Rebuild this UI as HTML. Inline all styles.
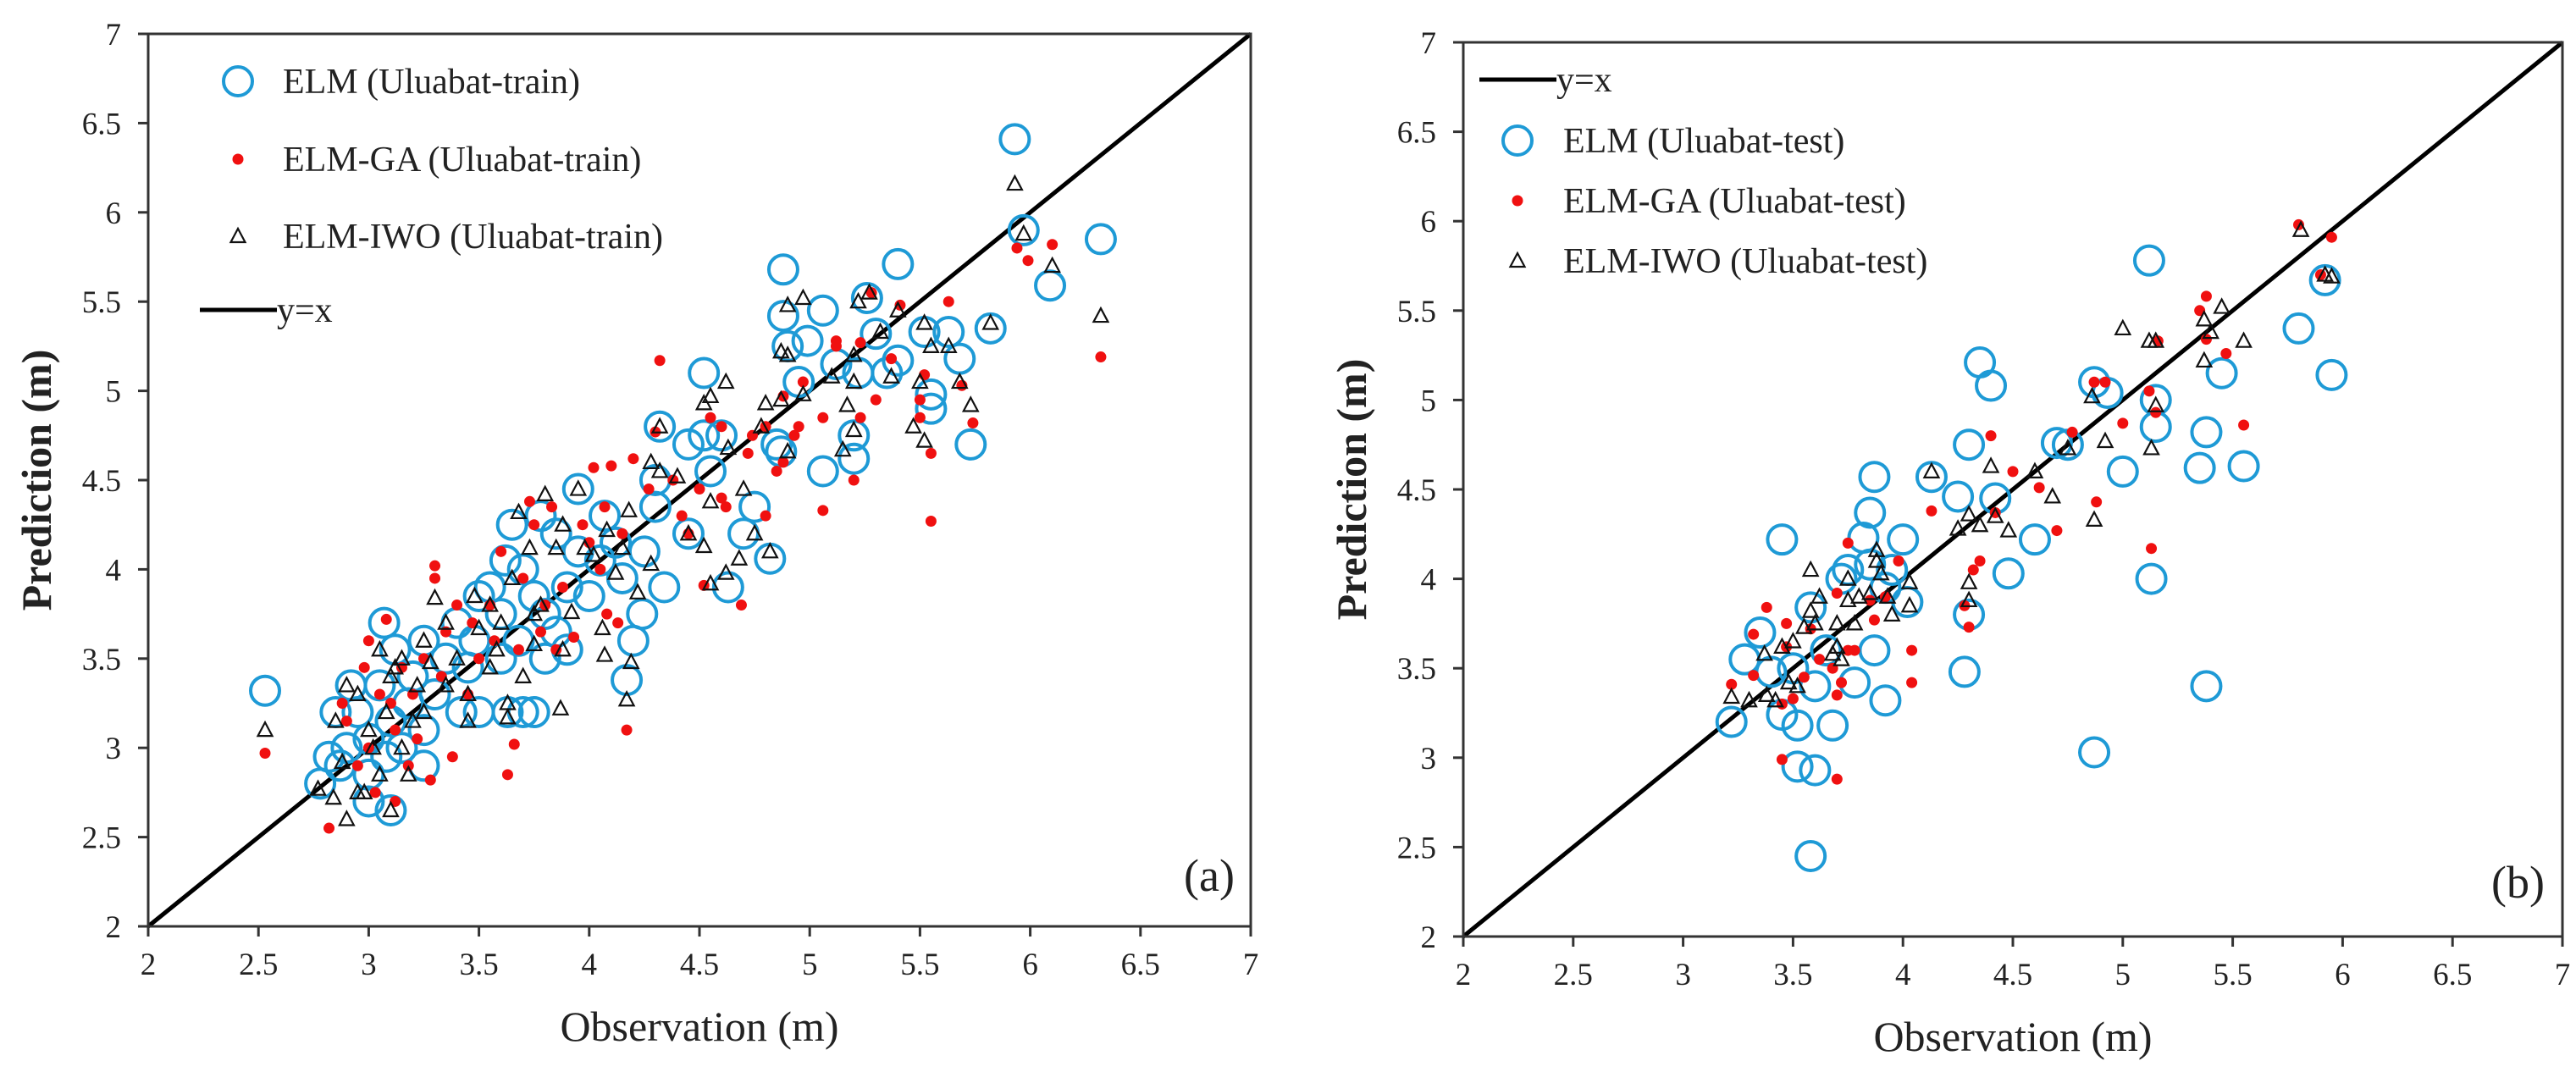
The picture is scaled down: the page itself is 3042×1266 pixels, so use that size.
<!DOCTYPE html>
<html><head><meta charset="utf-8"><style>
html,body{margin:0;padding:0;background:#fff;}
svg{display:block;font-family:"Liberation Serif",serif;}
</style></head><body>
<svg id="chart" width="3042" height="1266" viewBox="0 0 3042 1266" xmlns="http://www.w3.org/2000/svg"></svg>
<script>
const ticks = [2,2.5,3,3.5,4,4.5,5,5.5,6,6.5,7];
const tickLabels = ["2","2.5","3","3.5","4","4.5","5","5.5","6","6.5","7"];

const elmTrainX = [5.93,6.32,5.97,6.09,5.73,5.82,5.68,5.63,5.55,5.55,5.52,5.4,5.4,5.35,5.26,5.3,5.2,5.2,5.22,5.12,5.06,5.06,4.99,4.95,4.88,4.88,4.9,4.87,4.85,4.82,4.75,4.7,4.63,4.6,4.52,4.52,4.55,4.45,4.45,4.34,4.32,4.3,4.25,4.2,4.17,4.15,4.12,4.07,4.05,4.0,3.95,3.95,3.9,3.85,3.8,3.78,3.75,3.7,3.68,3.65,3.62,3.6,3.6,3.55,3.5,3.48,3.45,3.42,3.4,3.35,3.3,3.25,3.25,3.2,3.18,3.15,3.12,3.1,3.08,3.07,3.05,3.0,3.0,2.95,2.92,2.9,2.87,2.85,2.82,2.78,2.53,3.1,3.0,3.63,3.75,3.7,3.25,3.5,4.24,4.3,3.85,3.9,3.8];
const elmTrainY = [6.41,5.85,5.9,5.59,4.70,5.35,5.18,5.33,4.98,4.90,5.33,5.71,5.17,5.1,5.52,5.32,4.75,4.62,5.1,5.15,4.55,5.45,5.28,5.05,5.68,5.42,5.25,4.66,4.7,4.06,4.35,4.2,3.9,4.75,5.1,4.75,4.55,4.7,4.2,3.9,4.8,4.5,4.1,3.6,3.38,3.95,4.15,4.3,4.05,3.85,4.45,4.1,3.9,3.65,3.5,4.3,3.85,4.0,3.6,4.25,4.05,3.75,3.5,3.9,3.85,3.6,3.45,3.2,3.7,3.5,3.3,3.6,3.1,3.4,3.25,3.0,3.55,3.15,2.95,3.7,3.35,3.05,2.85,3.2,3.35,3.0,2.9,3.2,2.95,2.8,3.32,2.65,2.7,3.2,3.2,3.2,2.9,3.2,3.75,4.35,4.2,3.55,3.75];

const gaTrainX = [5.94,5.99,6.1,6.32,5.63,5.74,5.69,5.55,5.55,5.5,5.52,5.5,5.41,5.37,5.3,5.28,5.23,5.23,5.2,5.12,5.12,5.06,5.06,4.97,4.95,4.93,4.88,4.88,4.85,4.8,4.74,4.69,4.72,4.62,4.6,4.55,4.52,4.5,4.42,4.38,4.32,4.3,4.27,4.2,4.17,4.15,4.1,4.07,4.05,4.02,4.0,3.97,3.93,3.88,3.83,3.8,3.75,3.73,3.7,3.68,3.66,3.63,3.6,3.55,3.5,3.45,3.4,3.38,3.35,3.3,3.3,3.28,3.25,3.2,3.18,3.12,3.12,3.08,3.05,3.0,2.98,2.95,2.9,2.88,2.82,2.53,3.0,3.03,3.1,3.15,3.22,3.33,3.47,3.57,3.78,3.85,4.08,4.13,4.45,4.6,4.8];
const gaTrainY = [5.8,5.73,5.82,5.19,5.5,4.82,5.03,4.27,4.65,4.85,5.09,4.95,5.48,5.18,4.95,5.55,5.27,4.85,4.5,5.28,5.25,4.33,4.85,5.05,4.8,4.75,4.97,4.6,4.55,4.8,4.75,3.8,4.65,4.35,4.8,4.85,3.91,4.45,4.3,4.5,5.17,4.77,4.45,4.62,3.1,4.2,4.58,4.35,4.0,4.57,4.15,4.25,3.62,3.9,4.35,3.8,4.25,4.38,3.95,3.55,3.02,2.85,4.1,3.8,3.5,3.3,3.8,2.95,3.65,3.95,4.02,2.82,3.5,3.3,2.9,3.1,2.7,3.72,3.3,3.6,3.45,2.9,3.15,3.25,2.55,2.97,3.0,2.75,3.25,3.45,3.05,3.4,3.7,3.6,3.65,3.55,3.75,3.7,4.2,4.4,4.3];

const iwoTrainX = [5.93,5.97,6.1,6.32,5.82,5.73,5.68,5.63,5.55,5.52,5.52,5.47,5.5,5.4,5.37,5.32,5.27,5.22,5.2,5.2,5.17,5.15,5.2,5.1,4.97,4.97,4.9,4.9,4.87,4.87,4.9,4.8,4.78,4.82,4.75,4.7,4.68,4.62,4.63,4.62,4.55,4.55,4.52,4.52,4.55,4.45,4.4,4.32,4.32,4.28,4.28,4.22,4.18,4.15,4.19,4.17,4.12,4.08,4.06,4.07,4.02,3.98,3.95,3.92,3.88,3.85,3.88,3.87,3.8,3.78,3.75,3.73,3.68,3.7,3.65,3.63,3.63,3.58,3.55,3.5,3.48,3.45,3.45,3.4,3.35,3.3,3.28,3.25,3.22,3.2,3.18,3.15,3.12,3.1,3.08,3.05,3.02,3.0,2.98,2.95,2.9,2.9,2.88,2.85,2.84,2.77,2.53,2.95,3.05,3.1,3.15,3.25,3.35,3.55,3.6,3.75];
const iwoTrainY = [6.16,5.88,5.7,5.42,5.38,4.92,5.05,5.25,5.25,5.38,4.72,4.8,5.05,5.45,5.08,5.33,5.55,5.5,5.2,5.05,4.92,4.67,4.78,5.08,5.52,4.98,5.48,5.2,4.95,5.22,4.66,4.93,4.8,4.1,4.2,4.45,4.06,5.05,4.68,3.98,4.97,4.38,4.93,4.13,3.92,4.2,4.52,4.8,4.55,4.6,4.03,3.87,4.33,4.12,3.48,3.27,3.98,4.22,3.67,3.52,4.08,4.12,4.45,3.76,4.25,4.12,3.55,3.22,4.42,3.8,3.58,4.12,4.32,3.4,3.95,3.25,3.17,3.55,3.8,3.67,3.85,3.3,3.15,3.5,3.7,3.84,3.48,3.6,3.35,3.15,2.85,3.0,3.45,2.65,3.2,3.55,3.0,3.1,2.75,3.3,2.6,3.35,2.92,3.15,2.72,2.77,3.1,2.75,2.85,3.4,3.5,3.2,3.35,3.45,3.7,3.75];

const elmTestX = [5.12,5.92,5.8,5.95,5.45,5.38,5.55,5.35,5.15,5.15,5.13,5.38,4.87,4.87,4.93,5.0,4.75,4.7,4.6,4.48,4.4,4.35,4.42,4.3,4.25,4.3,4.28,4.13,4.0,4.02,3.92,3.87,3.87,3.85,3.82,3.85,3.75,3.72,3.78,3.68,3.6,3.52,3.52,3.45,3.58,3.6,3.45,3.4,3.35,3.28,3.22,3.58,3.65,3.5,3.92,3.95];
const elmTestY = [5.78,5.67,5.4,5.14,5.15,4.82,4.63,4.62,5.0,4.85,4.0,3.4,3.03,5.1,5.04,4.6,4.75,4.76,4.22,4.03,5.08,5.21,4.45,4.75,4.46,3.8,3.48,4.57,4.22,3.87,3.32,3.6,4.57,4.37,4.23,4.08,4.05,4.0,3.42,3.18,2.93,2.95,3.18,4.22,3.84,3.4,3.24,3.48,3.7,3.55,3.2,2.45,3.6,3.5,3.95,4.05];

const gaTestX = [5.8,5.95,5.9,5.38,5.35,5.38,5.47,5.16,5.55,5.13,5.12,4.92,4.87,5.0,5.15,4.77,4.88,4.7,4.62,4.5,4.4,4.42,4.35,4.32,4.28,4.3,4.13,4.04,4.04,3.98,3.92,3.87,3.85,3.75,3.78,3.75,3.7,3.72,3.7,3.7,3.68,3.62,3.58,3.55,3.47,3.45,3.45,3.5,3.38,3.32,3.32,3.22,3.47];
const gaTestY = [5.98,5.91,5.7,5.58,5.5,5.34,5.26,5.33,4.86,4.17,5.05,5.1,5.1,4.87,4.93,4.82,4.43,4.27,4.51,4.6,4.8,4.37,4.1,4.05,3.85,3.73,4.38,3.6,3.42,4.1,3.9,3.77,3.88,4.2,3.6,3.6,3.92,3.42,3.35,2.88,3.5,3.55,3.72,3.45,3.75,3.3,2.99,3.33,3.84,3.69,3.46,3.41,3.62];

const iwoTestX = [5.81,5.92,5.95,5.45,5.37,5.4,5.37,5.55,5.12,5.15,5.0,5.15,5.13,4.86,4.92,4.75,4.87,4.68,4.6,4.48,4.42,4.4,4.35,4.3,4.3,4.3,4.25,4.13,4.03,4.03,3.95,3.93,3.9,3.88,3.88,3.85,3.8,3.78,3.75,3.75,3.7,3.7,3.68,3.62,3.58,3.58,3.6,3.55,3.5,3.48,3.45,3.52,3.42,3.38,3.37,3.3,3.22,3.72];
const iwoTestY = [5.95,5.7,5.69,5.52,5.45,5.38,5.22,5.33,5.33,5.33,5.4,4.97,4.73,5.02,4.77,4.73,4.33,4.46,4.6,4.27,4.35,4.63,4.3,4.36,3.98,3.88,4.28,4.6,3.98,3.85,3.8,3.9,4.03,4.16,4.1,3.92,3.9,3.75,3.88,4.0,3.75,3.62,3.58,3.9,4.05,3.82,3.75,3.73,3.65,3.42,3.62,3.4,3.32,3.35,3.58,3.32,3.34,3.55];

const NS = "http://www.w3.org/2000/svg";
const svg = document.getElementById('chart');
function mk(tag, attrs, parent){ const e=document.createElementNS(NS,tag); for(const k in attrs) e.setAttribute(k,attrs[k]); (parent||svg).appendChild(e); return e; }

const panels = [
  {id:'a', x0:175, x1:1477, yTop:40, yBot:1094, label:'(a)', labelX:1398, labelY:1052,
   circX:elmTrainX, circY:elmTrainY, dotX:gaTrainX, dotY:gaTrainY, triX:iwoTrainX, triY:iwoTrainY,
   legend:[{t:'circ',y:96,text:'ELM (Uluabat-train)'},{t:'dot',y:188,text:'ELM-GA (Uluabat-train)'},{t:'tri',y:279,text:'ELM-IWO (Uluabat-train)'},{t:'line',y:366,text:'y=x'}],
   legX:281, legTextX:334},
  {id:'b', x0:1728, x1:3026, yTop:50, yBot:1106, label:'(b)', labelX:2942, labelY:1060,
   circX:elmTestX, circY:elmTestY, dotX:gaTestX, dotY:gaTestY, triX:iwoTestX, triY:iwoTestY,
   legend:[{t:'line',y:94,text:'y=x'},{t:'circ',y:166,text:'ELM (Uluabat-test)'},{t:'dot',y:237,text:'ELM-GA (Uluabat-test)'},{t:'tri',y:308,text:'ELM-IWO (Uluabat-test)'}],
   legX:1792, legTextX:1846}
];

function circle(g,cx,cy){ return mk('circle',{cx:cx,cy:cy,r:17,fill:'none',stroke:'#1e9ad6','stroke-width':4},g); }
function dot(g,cx,cy){ return mk('circle',{cx:cx,cy:cy,r:6.5,fill:'#f01010'},g); }
function tri(g,cx,cy){ return mk('path',{d:`M${cx},${cy-9} L${cx+8.5},${cy+7} L${cx-8.5},${cy+7} Z`,fill:'none',stroke:'#111','stroke-width':2.2},g); }

panels.forEach(p=>{
  const sx = v => p.x0 + (v-2)/5*(p.x1-p.x0);
  const sy = v => p.yBot - (v-2)/5*(p.yBot-p.yTop);
  const g = mk('g',{});
  
  

  const ln = mk('line',{x1:sx(2),y1:sy(2),x2:sx(7),y2:sy(7),stroke:'#000','stroke-width':5},g);
  
  

  const gc = mk('g',{},g);
  
  
  p.circX.forEach((x,i)=>{ const c=circle(gc,sx(x),sy(p.circY[i]));
    
     });
  const gd = mk('g',{},g);
  
  
  p.dotX.forEach((x,i)=>{ const c=dot(gd,sx(x),sy(p.dotY[i]));
    
     });
  const gt = mk('g',{},g);
  
  
  p.triX.forEach((x,i)=>{ const c=tri(gt,sx(x),sy(p.triY[i]));
    
     });

  const fr = mk('rect',{x:p.x0,y:p.yTop,width:p.x1-p.x0,height:p.yBot-p.yTop,fill:'none',stroke:'#333','stroke-width':3},g);
  
  

  ticks.forEach((t,i)=>{
    mk('line',{x1:sx(t),y1:p.yBot,x2:sx(t),y2:p.yBot+12,stroke:'#333','stroke-width':3},g);
    const xl = mk('text',{x:sx(t),y:p.yBot+57,'font-size':37,'text-anchor':'middle',fill:'#222'},g);
    xl.textContent = tickLabels[i];
    
    
    mk('line',{x1:p.x0-12,y1:sy(t),x2:p.x0,y2:sy(t),stroke:'#333','stroke-width':3},g);
    const yl = mk('text',{x:p.x0-32,y:sy(t)+13,'font-size':37,'text-anchor':'end',fill:'#222'},g);
    yl.textContent = tickLabels[i];
    
    
  });

  const xt = mk('text',{x:(p.x0+p.x1)/2,y:p.yBot+135,'font-size':50,'text-anchor':'middle',fill:'#222'},g);
  xt.textContent = 'Observation (m)';
  
  
  const yx = p.x0-115, yy=(p.yTop+p.yBot)/2;
  const yt = mk('text',{x:yx,y:yy,'font-size':50,'font-weight':'bold','text-anchor':'middle',fill:'#222',transform:`rotate(-90 ${yx} ${yy})`},g);
  yt.textContent = 'Prediction (m)';
  
  

  const pl = mk('text',{x:p.labelX,y:p.labelY,'font-size':54,fill:'#222'},g);
  pl.textContent = p.label;
  
  

  const lg = mk('g',{},g);
  
  
  p.legend.forEach(e=>{
    const eg = mk('g',{},lg);
    
    
    let tx = p.legTextX;
    if(e.t==='circ') circle(eg,p.legX,e.y);
    else if(e.t==='dot') dot(eg,p.legX,e.y);
    else if(e.t==='tri') tri(eg,p.legX,e.y);
    else { mk('line',{x1:p.legX-45,y1:e.y,x2:p.legX+46,y2:e.y,stroke:'#000','stroke-width':5},eg); tx = p.legX+46; }
    const t = mk('text',{x:tx,y:e.y+14,'font-size':42,fill:'#222'},eg);
    t.textContent = e.text;
  });
});
</script>
</body></html>
